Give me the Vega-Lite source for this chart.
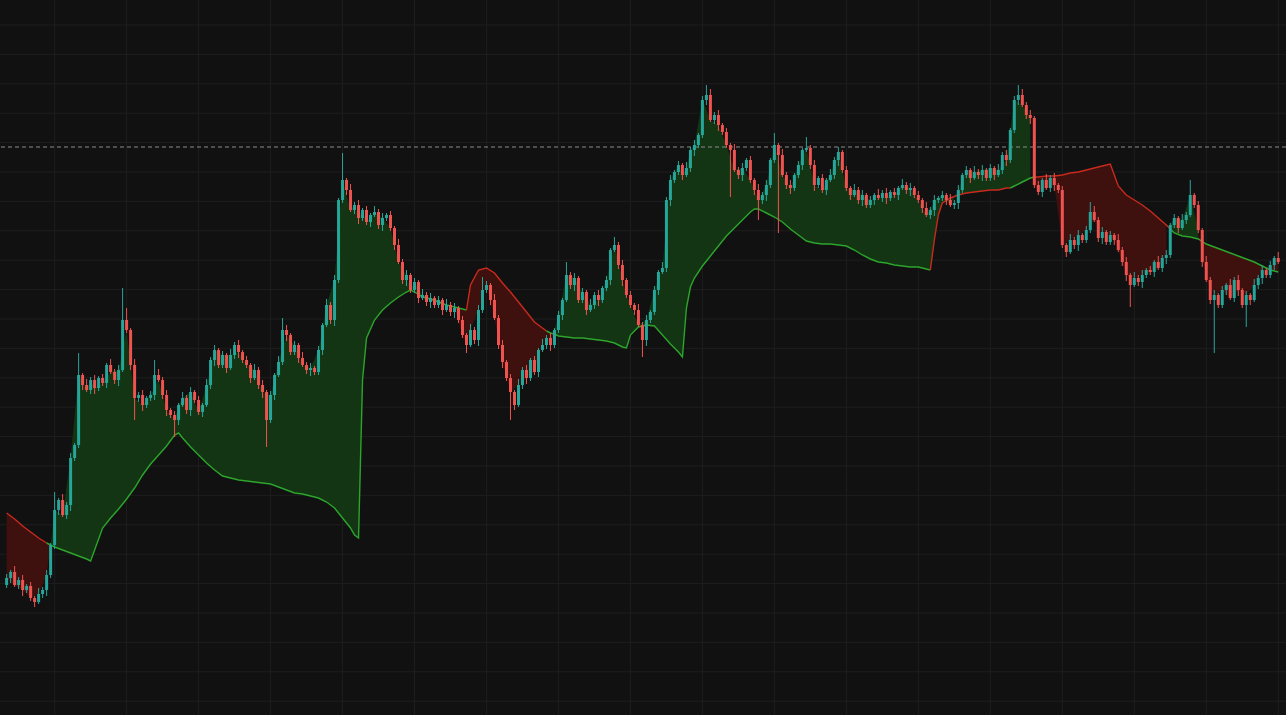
{
"$schema":"https://vega.github.io/schema/vega-lite/v6.json",
"width":1286,"height":715,"padding":0,"autosize":{"type":"none"},
"background":"#111111",
"config":{"view":{"stroke":null}},
"datasets":{
"gridx":[{"g":12},{"g":30},{"g":48},{"g":66},{"g":84},{"g":102},{"g":120},{"g":138},{"g":156},{"g":174},{"g":192},{"g":210},{"g":228},{"g":246},{"g":264},{"g":282},{"g":300},{"g":318}],
"gridy":[{"g":695},{"g":665.6},{"g":636.2},{"g":606.8},{"g":577.4},{"g":548},{"g":518.6},{"g":489.2},{"g":459.8},{"g":430.4},{"g":401},{"g":371.6},{"g":342.2},{"g":312.8},{"g":283.4},{"g":254},{"g":224.6},{"g":195.2},{"g":165.8},{"g":136.4},{"g":107},{"g":77.6},{"g":48.2},{"g":18.8}],
"candles":[
{"i":0,"o":135,"h":146,"l":132,"c":142},{"i":1,"o":142,"h":150,"l":137,"c":148},{"i":2,"o":148,"h":154,"l":133,"c":135},{"i":3,"o":135,"h":143,"l":131,"c":140},{"i":4,"o":140,"h":145,"l":124,"c":130},{"i":5,"o":130,"h":136,"l":127,"c":134},{"i":6,"o":134,"h":138,"l":119,"c":122},{"i":7,"o":122,"h":124,"l":113,"c":118},{"i":8,"o":118,"h":132,"l":116,"c":126},{"i":9,"o":126,"h":133,"l":122,"c":130},
{"i":10,"o":130,"h":150,"l":124,"c":145},{"i":11,"o":145,"h":177,"l":142,"c":175},{"i":12,"o":175,"h":228,"l":171,"c":210},{"i":13,"o":210,"h":222,"l":205,"c":220},{"i":14,"o":220,"h":226,"l":203,"c":205},{"i":15,"o":205,"h":218,"l":201,"c":215},{"i":16,"o":215,"h":267,"l":209,"c":262},{"i":17,"o":262,"h":277,"l":259,"c":275},{"i":18,"o":275,"h":367,"l":272,"c":345},{"i":19,"o":345,"h":347,"l":330,"c":335},
{"i":20,"o":335,"h":341,"l":328,"c":330},{"i":21,"o":330,"h":343,"l":326,"c":340},{"i":22,"o":340,"h":345,"l":326,"c":332},{"i":23,"o":332,"h":344,"l":329,"c":342},{"i":24,"o":342,"h":346,"l":334,"c":337},{"i":25,"o":337,"h":357,"l":332,"c":355},{"i":26,"o":355,"h":361,"l":346,"c":348},{"i":27,"o":348,"h":351,"l":336,"c":340},{"i":28,"o":340,"h":355,"l":334,"c":350},{"i":29,"o":350,"h":432,"l":348,"c":400},
{"i":30,"o":400,"h":412,"l":387,"c":390},{"i":31,"o":390,"h":392,"l":350,"c":355},{"i":32,"o":355,"h":361,"l":300,"c":322},{"i":33,"o":322,"h":328,"l":318,"c":325},{"i":34,"o":325,"h":330,"l":309,"c":315},{"i":35,"o":315,"h":324,"l":312,"c":322},{"i":36,"o":322,"h":329,"l":319,"c":325},{"i":37,"o":325,"h":360,"l":320,"c":345},{"i":38,"o":345,"h":351,"l":338,"c":340},{"i":39,"o":340,"h":343,"l":321,"c":325},
{"i":40,"o":325,"h":330,"l":304,"c":310},{"i":41,"o":310,"h":312,"l":302,"c":305},{"i":42,"o":305,"h":309,"l":283,"c":300},{"i":43,"o":300,"h":317,"l":295,"c":315},{"i":44,"o":315,"h":328,"l":313,"c":322},{"i":45,"o":322,"h":325,"l":306,"c":310},{"i":46,"o":310,"h":333,"l":304,"c":328},{"i":47,"o":328,"h":330,"l":317,"c":320},{"i":48,"o":320,"h":324,"l":305,"c":308},{"i":49,"o":308,"h":317,"l":303,"c":315},
{"i":50,"o":315,"h":341,"l":313,"c":335},{"i":51,"o":335,"h":363,"l":331,"c":360},{"i":52,"o":360,"h":375,"l":354,"c":370},{"i":53,"o":370,"h":372,"l":352,"c":355},{"i":54,"o":355,"h":369,"l":352,"c":365},{"i":55,"o":365,"h":367,"l":347,"c":352},{"i":56,"o":352,"h":371,"l":350,"c":365},{"i":57,"o":365,"h":378,"l":361,"c":375},{"i":58,"o":375,"h":380,"l":362,"c":368},{"i":59,"o":368,"h":370,"l":357,"c":360},
{"i":60,"o":360,"h":364,"l":352,"c":355},{"i":61,"o":355,"h":357,"l":337,"c":342},{"i":62,"o":342,"h":356,"l":340,"c":350},{"i":63,"o":350,"h":353,"l":331,"c":335},{"i":64,"o":335,"h":340,"l":322,"c":328},{"i":65,"o":328,"h":330,"l":273,"c":300},{"i":66,"o":300,"h":329,"l":297,"c":325},{"i":67,"o":325,"h":347,"l":320,"c":345},{"i":68,"o":345,"h":364,"l":343,"c":358},{"i":69,"o":358,"h":402,"l":355,"c":390},
{"i":70,"o":390,"h":395,"l":379,"c":385},{"i":71,"o":385,"h":387,"l":365,"c":368},{"i":72,"o":368,"h":379,"l":365,"c":375},{"i":73,"o":375,"h":377,"l":357,"c":362},{"i":74,"o":362,"h":368,"l":353,"c":355},{"i":75,"o":355,"h":358,"l":346,"c":350},{"i":76,"o":350,"h":357,"l":344,"c":352},{"i":77,"o":352,"h":354,"l":345,"c":348},{"i":78,"o":348,"h":374,"l":345,"c":370},{"i":79,"o":370,"h":397,"l":365,"c":395},
{"i":80,"o":395,"h":421,"l":393,"c":415},{"i":81,"o":415,"h":418,"l":396,"c":400},{"i":82,"o":400,"h":445,"l":394,"c":440},{"i":83,"o":440,"h":522,"l":437,"c":520},{"i":84,"o":520,"h":567,"l":517,"c":540},{"i":85,"o":540,"h":542,"l":525,"c":530},{"i":86,"o":530,"h":536,"l":508,"c":510},{"i":87,"o":510,"h":518,"l":506,"c":515},{"i":88,"o":515,"h":520,"l":496,"c":502},{"i":89,"o":502,"h":512,"l":499,"c":510},
{"i":90,"o":510,"h":514,"l":495,"c":498},{"i":91,"o":498,"h":507,"l":493,"c":505},{"i":92,"o":505,"h":514,"l":503,"c":508},{"i":93,"o":508,"h":511,"l":491,"c":495},{"i":94,"o":495,"h":507,"l":489,"c":502},{"i":95,"o":502,"h":507,"l":499,"c":505},{"i":96,"o":505,"h":509,"l":489,"c":492},{"i":97,"o":492,"h":494,"l":470,"c":475},{"i":98,"o":475,"h":481,"l":456,"c":458},{"i":99,"o":458,"h":461,"l":436,"c":440},
{"i":100,"o":440,"h":450,"l":434,"c":445},{"i":101,"o":445,"h":447,"l":427,"c":430},{"i":102,"o":430,"h":442,"l":427,"c":438},{"i":103,"o":438,"h":440,"l":417,"c":422},{"i":104,"o":422,"h":431,"l":420,"c":425},{"i":105,"o":425,"h":428,"l":414,"c":418},{"i":106,"o":418,"h":427,"l":412,"c":422},{"i":107,"o":422,"h":424,"l":412,"c":415},{"i":108,"o":415,"h":424,"l":412,"c":420},{"i":109,"o":420,"h":422,"l":405,"c":410},
{"i":110,"o":410,"h":421,"l":408,"c":415},{"i":111,"o":415,"h":418,"l":404,"c":408},{"i":112,"o":408,"h":417,"l":402,"c":412},{"i":113,"o":412,"h":414,"l":397,"c":400},{"i":114,"o":400,"h":404,"l":382,"c":385},{"i":115,"o":385,"h":387,"l":367,"c":375},{"i":116,"o":375,"h":396,"l":373,"c":390},{"i":117,"o":390,"h":393,"l":376,"c":380},{"i":118,"o":380,"h":415,"l":374,"c":410},{"i":119,"o":410,"h":443,"l":407,"c":430},
{"i":120,"o":430,"h":439,"l":427,"c":435},{"i":121,"o":435,"h":437,"l":415,"c":420},{"i":122,"o":420,"h":426,"l":400,"c":402},{"i":123,"o":402,"h":405,"l":371,"c":375},{"i":124,"o":375,"h":380,"l":352,"c":358},{"i":125,"o":358,"h":360,"l":339,"c":342},{"i":126,"o":342,"h":346,"l":300,"c":328},{"i":127,"o":328,"h":330,"l":310,"c":315},{"i":128,"o":315,"h":341,"l":313,"c":335},{"i":129,"o":335,"h":353,"l":331,"c":350},
{"i":130,"o":350,"h":355,"l":336,"c":342},{"i":131,"o":342,"h":362,"l":339,"c":360},{"i":132,"o":360,"h":364,"l":345,"c":348},{"i":133,"o":348,"h":372,"l":343,"c":370},{"i":134,"o":370,"h":381,"l":368,"c":375},{"i":135,"o":375,"h":385,"l":371,"c":382},{"i":136,"o":382,"h":387,"l":369,"c":375},{"i":137,"o":375,"h":392,"l":372,"c":390},{"i":138,"o":390,"h":409,"l":387,"c":405},{"i":139,"o":405,"h":422,"l":400,"c":420},
{"i":140,"o":420,"h":458,"l":418,"c":445},{"i":141,"o":445,"h":448,"l":431,"c":435},{"i":142,"o":435,"h":447,"l":429,"c":442},{"i":143,"o":442,"h":444,"l":417,"c":420},{"i":144,"o":420,"h":432,"l":417,"c":428},{"i":145,"o":428,"h":430,"l":405,"c":410},{"i":146,"o":410,"h":421,"l":408,"c":415},{"i":147,"o":415,"h":428,"l":411,"c":425},{"i":148,"o":425,"h":430,"l":414,"c":420},{"i":149,"o":420,"h":434,"l":417,"c":432},
{"i":150,"o":432,"h":444,"l":429,"c":440},{"i":151,"o":440,"h":472,"l":435,"c":470},{"i":152,"o":470,"h":483,"l":468,"c":475},{"i":153,"o":475,"h":478,"l":451,"c":455},{"i":154,"o":455,"h":460,"l":434,"c":440},{"i":155,"o":440,"h":442,"l":422,"c":425},{"i":156,"o":425,"h":429,"l":412,"c":415},{"i":157,"o":415,"h":417,"l":405,"c":410},{"i":158,"o":410,"h":416,"l":393,"c":395},{"i":159,"o":395,"h":398,"l":363,"c":380},
{"i":160,"o":380,"h":405,"l":374,"c":400},{"i":161,"o":400,"h":410,"l":397,"c":408},{"i":162,"o":408,"h":434,"l":405,"c":430},{"i":163,"o":430,"h":450,"l":425,"c":448},{"i":164,"o":448,"h":458,"l":446,"c":452},{"i":165,"o":452,"h":523,"l":448,"c":520},{"i":166,"o":520,"h":545,"l":514,"c":540},{"i":167,"o":540,"h":550,"l":537,"c":548},{"i":168,"o":548,"h":559,"l":545,"c":555},{"i":169,"o":555,"h":557,"l":540,"c":545},
{"i":170,"o":545,"h":558,"l":543,"c":552},{"i":171,"o":552,"h":573,"l":548,"c":570},{"i":172,"o":570,"h":580,"l":564,"c":575},{"i":173,"o":575,"h":587,"l":572,"c":585},{"i":174,"o":585,"h":624,"l":582,"c":620},{"i":175,"o":620,"h":635,"l":615,"c":625},{"i":176,"o":625,"h":631,"l":598,"c":600},{"i":177,"o":600,"h":608,"l":596,"c":605},{"i":178,"o":605,"h":610,"l":589,"c":595},{"i":179,"o":595,"h":597,"l":585,"c":588},
{"i":180,"o":588,"h":592,"l":572,"c":575},{"i":181,"o":575,"h":577,"l":523,"c":570},{"i":182,"o":570,"h":576,"l":548,"c":550},{"i":183,"o":550,"h":553,"l":541,"c":545},{"i":184,"o":545,"h":557,"l":539,"c":552},{"i":185,"o":552,"h":562,"l":549,"c":560},{"i":186,"o":560,"h":564,"l":537,"c":540},{"i":187,"o":540,"h":542,"l":525,"c":530},{"i":188,"o":530,"h":536,"l":500,"c":520},{"i":189,"o":520,"h":528,"l":516,"c":525},
{"i":190,"o":525,"h":540,"l":519,"c":535},{"i":191,"o":535,"h":562,"l":532,"c":560},{"i":192,"o":560,"h":587,"l":557,"c":575},{"i":193,"o":575,"h":577,"l":487,"c":565},{"i":194,"o":565,"h":571,"l":543,"c":545},{"i":195,"o":545,"h":548,"l":531,"c":535},{"i":196,"o":535,"h":540,"l":526,"c":532},{"i":197,"o":532,"h":547,"l":529,"c":545},{"i":198,"o":545,"h":559,"l":542,"c":555},{"i":199,"o":555,"h":572,"l":550,"c":570},
{"i":200,"o":570,"h":583,"l":568,"c":572},{"i":201,"o":572,"h":575,"l":551,"c":555},{"i":202,"o":555,"h":560,"l":529,"c":535},{"i":203,"o":535,"h":544,"l":532,"c":542},{"i":204,"o":542,"h":546,"l":527,"c":530},{"i":205,"o":530,"h":542,"l":525,"c":540},{"i":206,"o":540,"h":551,"l":538,"c":545},{"i":207,"o":545,"h":563,"l":541,"c":560},{"i":208,"o":560,"h":573,"l":554,"c":568},{"i":209,"o":568,"h":570,"l":547,"c":550},
{"i":210,"o":550,"h":554,"l":529,"c":532},{"i":211,"o":532,"h":534,"l":520,"c":525},{"i":212,"o":525,"h":536,"l":523,"c":530},{"i":213,"o":530,"h":533,"l":516,"c":520},{"i":214,"o":520,"h":530,"l":514,"c":525},{"i":215,"o":525,"h":527,"l":512,"c":515},{"i":216,"o":515,"h":524,"l":512,"c":520},{"i":217,"o":520,"h":527,"l":515,"c":525},{"i":218,"o":525,"h":531,"l":520,"c":522},{"i":219,"o":522,"h":530,"l":518,"c":527},
{"i":220,"o":527,"h":532,"l":516,"c":522},{"i":221,"o":522,"h":530,"l":519,"c":528},{"i":222,"o":528,"h":532,"l":522,"c":525},{"i":223,"o":525,"h":534,"l":520,"c":532},{"i":224,"o":532,"h":541,"l":530,"c":535},{"i":225,"o":535,"h":538,"l":526,"c":530},{"i":226,"o":530,"h":537,"l":524,"c":532},{"i":227,"o":532,"h":534,"l":522,"c":525},{"i":228,"o":525,"h":529,"l":517,"c":520},{"i":229,"o":520,"h":522,"l":507,"c":512},
{"i":230,"o":512,"h":518,"l":503,"c":505},{"i":231,"o":505,"h":513,"l":501,"c":510},{"i":232,"o":510,"h":525,"l":504,"c":520},{"i":233,"o":520,"h":524,"l":517,"c":522},{"i":234,"o":522,"h":529,"l":519,"c":525},{"i":235,"o":525,"h":527,"l":515,"c":520},{"i":236,"o":520,"h":526,"l":513,"c":515},{"i":237,"o":515,"h":520,"l":511,"c":517},{"i":238,"o":517,"h":535,"l":511,"c":530},{"i":239,"o":530,"h":547,"l":527,"c":545},
{"i":240,"o":545,"h":554,"l":542,"c":550},{"i":241,"o":550,"h":552,"l":537,"c":542},{"i":242,"o":542,"h":554,"l":540,"c":548},{"i":243,"o":548,"h":551,"l":541,"c":545},{"i":244,"o":545,"h":555,"l":539,"c":550},{"i":245,"o":550,"h":552,"l":539,"c":542},{"i":246,"o":542,"h":556,"l":539,"c":552},{"i":247,"o":552,"h":554,"l":540,"c":545},{"i":248,"o":545,"h":556,"l":543,"c":550},{"i":249,"o":550,"h":568,"l":546,"c":565},
{"i":250,"o":565,"h":570,"l":554,"c":560},{"i":251,"o":560,"h":592,"l":557,"c":590},{"i":252,"o":590,"h":624,"l":587,"c":620},{"i":253,"o":620,"h":635,"l":615,"c":625},{"i":254,"o":625,"h":631,"l":613,"c":615},{"i":255,"o":615,"h":618,"l":601,"c":605},{"i":256,"o":605,"h":610,"l":596,"c":602},{"i":257,"o":602,"h":604,"l":532,"c":535},{"i":258,"o":535,"h":539,"l":525,"c":528},{"i":259,"o":528,"h":542,"l":523,"c":540},
{"i":260,"o":540,"h":546,"l":530,"c":532},{"i":261,"o":532,"h":545,"l":528,"c":542},{"i":262,"o":542,"h":547,"l":529,"c":535},{"i":263,"o":535,"h":537,"l":527,"c":530},{"i":264,"o":530,"h":534,"l":472,"c":475},{"i":265,"o":475,"h":477,"l":463,"c":468},{"i":266,"o":468,"h":486,"l":466,"c":480},{"i":267,"o":480,"h":483,"l":471,"c":475},{"i":268,"o":475,"h":490,"l":469,"c":485},{"i":269,"o":485,"h":487,"l":477,"c":480},
{"i":270,"o":480,"h":494,"l":477,"c":490},{"i":271,"o":490,"h":518,"l":487,"c":508},{"i":272,"o":508,"h":514,"l":498,"c":500},{"i":273,"o":500,"h":503,"l":478,"c":482},{"i":274,"o":482,"h":493,"l":476,"c":488},{"i":275,"o":488,"h":490,"l":475,"c":478},{"i":276,"o":478,"h":489,"l":475,"c":485},{"i":277,"o":485,"h":487,"l":475,"c":480},{"i":278,"o":480,"h":486,"l":468,"c":470},{"i":279,"o":470,"h":473,"l":454,"c":458},
{"i":280,"o":458,"h":463,"l":439,"c":445},{"i":281,"o":445,"h":447,"l":413,"c":435},{"i":282,"o":435,"h":448,"l":433,"c":442},{"i":283,"o":442,"h":445,"l":434,"c":438},{"i":284,"o":438,"h":450,"l":432,"c":445},{"i":285,"o":445,"h":452,"l":442,"c":450},{"i":286,"o":450,"h":454,"l":445,"c":448},{"i":287,"o":448,"h":460,"l":443,"c":458},{"i":288,"o":458,"h":464,"l":450,"c":452},{"i":289,"o":452,"h":465,"l":448,"c":462},
{"i":290,"o":462,"h":470,"l":456,"c":465},{"i":291,"o":465,"h":497,"l":462,"c":495},{"i":292,"o":495,"h":506,"l":492,"c":502},{"i":293,"o":502,"h":504,"l":487,"c":492},{"i":294,"o":492,"h":506,"l":490,"c":500},{"i":295,"o":500,"h":508,"l":496,"c":505},{"i":296,"o":505,"h":540,"l":503,"c":525},{"i":297,"o":525,"h":527,"l":512,"c":515},{"i":298,"o":515,"h":519,"l":487,"c":490},{"i":299,"o":490,"h":492,"l":453,"c":458},
{"i":300,"o":458,"h":464,"l":438,"c":440},{"i":301,"o":440,"h":443,"l":416,"c":420},{"i":302,"o":420,"h":430,"l":367,"c":425},{"i":303,"o":425,"h":427,"l":412,"c":415},{"i":304,"o":415,"h":434,"l":412,"c":430},{"i":305,"o":430,"h":437,"l":425,"c":435},{"i":306,"o":435,"h":441,"l":420,"c":422},{"i":307,"o":422,"h":443,"l":418,"c":440},{"i":308,"o":440,"h":445,"l":424,"c":430},{"i":309,"o":430,"h":432,"l":412,"c":415},
{"i":310,"o":415,"h":429,"l":393,"c":425},{"i":311,"o":425,"h":427,"l":415,"c":420},{"i":312,"o":420,"h":441,"l":418,"c":435},{"i":313,"o":435,"h":445,"l":431,"c":442},{"i":314,"o":442,"h":455,"l":436,"c":450},{"i":315,"o":450,"h":452,"l":442,"c":445},{"i":316,"o":445,"h":459,"l":442,"c":455},{"i":317,"o":455,"h":464,"l":450,"c":462},{"i":318,"o":462,"h":468,"l":456,"c":458}
],
"band":[
{"i":0,"s":207,"lt":"dn","lg":1,"ft":"dn","fg":1},{"i":2,"s":201,"lt":"dn","lg":1,"ft":"dn","fg":1},{"i":4,"s":194,"lt":"dn","lg":1,"ft":"dn","fg":1},{"i":6,"s":188,"lt":"dn","lg":1,"ft":"dn","fg":1},{"i":8,"s":182,"lt":"dn","lg":1,"ft":"dn","fg":1},{"i":10,"s":177,"lt":"dn","lg":1,"ft":"dn","fg":1},
{"i":10,"s":177,"lt":"up","lg":2,"ft":"dn","fg":1},{"i":11,"s":175,"lt":"up","lg":2,"ft":"dn","fg":1},{"i":11,"s":175,"lt":"up","lg":2,"ft":"up","fg":2},
{"i":12,"s":173,"lt":"up","lg":2,"ft":"up","fg":2},{"i":14,"s":170,"lt":"up","lg":2,"ft":"up","fg":2},{"i":16,"s":167,"lt":"up","lg":2,"ft":"up","fg":2},{"i":18,"s":164,"lt":"up","lg":2,"ft":"up","fg":2},{"i":20,"s":161,"lt":"up","lg":2,"ft":"up","fg":2},{"i":21,"s":159,"lt":"up","lg":2,"ft":"up","fg":2},{"i":22,"s":170,"lt":"up","lg":2,"ft":"up","fg":2},{"i":24,"s":192,"lt":"up","lg":2,"ft":"up","fg":2},{"i":26,"s":202,"lt":"up","lg":2,"ft":"up","fg":2},{"i":28,"s":211,"lt":"up","lg":2,"ft":"up","fg":2},
{"i":30,"s":221,"lt":"up","lg":2,"ft":"up","fg":2},{"i":32,"s":232,"lt":"up","lg":2,"ft":"up","fg":2},{"i":34,"s":245,"lt":"up","lg":2,"ft":"up","fg":2},{"i":36,"s":256,"lt":"up","lg":2,"ft":"up","fg":2},{"i":38,"s":265,"lt":"up","lg":2,"ft":"up","fg":2},{"i":40,"s":274,"lt":"up","lg":2,"ft":"up","fg":2},{"i":42,"s":285,"lt":"up","lg":2,"ft":"up","fg":2},{"i":43,"s":287,"lt":"up","lg":2,"ft":"up","fg":2},{"i":44,"s":282,"lt":"up","lg":2,"ft":"up","fg":2},{"i":46,"s":273,"lt":"up","lg":2,"ft":"up","fg":2},
{"i":48,"s":265,"lt":"up","lg":2,"ft":"up","fg":2},{"i":50,"s":257,"lt":"up","lg":2,"ft":"up","fg":2},{"i":52,"s":250,"lt":"up","lg":2,"ft":"up","fg":2},{"i":54,"s":244,"lt":"up","lg":2,"ft":"up","fg":2},{"i":56,"s":242,"lt":"up","lg":2,"ft":"up","fg":2},{"i":58,"s":240,"lt":"up","lg":2,"ft":"up","fg":2},{"i":60,"s":239,"lt":"up","lg":2,"ft":"up","fg":2},{"i":62,"s":238,"lt":"up","lg":2,"ft":"up","fg":2},{"i":64,"s":237,"lt":"up","lg":2,"ft":"up","fg":2},{"i":66,"s":236,"lt":"up","lg":2,"ft":"up","fg":2},
{"i":68,"s":233,"lt":"up","lg":2,"ft":"up","fg":2},{"i":70,"s":230,"lt":"up","lg":2,"ft":"up","fg":2},{"i":72,"s":227,"lt":"up","lg":2,"ft":"up","fg":2},{"i":74,"s":226,"lt":"up","lg":2,"ft":"up","fg":2},{"i":76,"s":224,"lt":"up","lg":2,"ft":"up","fg":2},{"i":78,"s":222,"lt":"up","lg":2,"ft":"up","fg":2},{"i":80,"s":218,"lt":"up","lg":2,"ft":"up","fg":2},{"i":82,"s":212,"lt":"up","lg":2,"ft":"up","fg":2},{"i":84,"s":202,"lt":"up","lg":2,"ft":"up","fg":2},{"i":86,"s":192,"lt":"up","lg":2,"ft":"up","fg":2},
{"i":87,"s":185,"lt":"up","lg":2,"ft":"up","fg":2},{"i":88,"s":182,"lt":"up","lg":2,"ft":"up","fg":2},{"i":89,"s":340,"lt":"up","lg":2,"ft":"up","fg":2},{"i":90,"s":382,"lt":"up","lg":2,"ft":"up","fg":2},{"i":92,"s":400,"lt":"up","lg":2,"ft":"up","fg":2},{"i":94,"s":410,"lt":"up","lg":2,"ft":"up","fg":2},{"i":96,"s":417,"lt":"up","lg":2,"ft":"up","fg":2},{"i":98,"s":423,"lt":"up","lg":2,"ft":"up","fg":2},{"i":100,"s":428,"lt":"up","lg":2,"ft":"up","fg":2},{"i":101,"s":430,"lt":"up","lg":2,"ft":"up","fg":2},
{"i":102,"s":428,"lt":"up","lg":2,"ft":"up","fg":2},{"i":104,"s":423,"lt":"up","lg":2,"ft":"up","fg":2},{"i":106,"s":421,"lt":"up","lg":2,"ft":"up","fg":2},{"i":108,"s":418,"lt":"up","lg":2,"ft":"up","fg":2},{"i":110,"s":415,"lt":"up","lg":2,"ft":"up","fg":2},
{"i":110,"s":415,"lt":"up","lg":2,"ft":"dn","fg":3},{"i":112,"s":413,"lt":"up","lg":2,"ft":"dn","fg":3},{"i":114,"s":411,"lt":"up","lg":2,"ft":"dn","fg":3},{"i":115,"s":410,"lt":"up","lg":2,"ft":"dn","fg":3},
{"i":115,"s":410,"lt":"dn","lg":3,"ft":"dn","fg":3},{"i":116,"s":435,"lt":"dn","lg":3,"ft":"dn","fg":3},{"i":118,"s":450,"lt":"dn","lg":3,"ft":"dn","fg":3},{"i":120,"s":452,"lt":"dn","lg":3,"ft":"dn","fg":3},{"i":122,"s":447,"lt":"dn","lg":3,"ft":"dn","fg":3},{"i":124,"s":437,"lt":"dn","lg":3,"ft":"dn","fg":3},{"i":126,"s":428,"lt":"dn","lg":3,"ft":"dn","fg":3},{"i":128,"s":418,"lt":"dn","lg":3,"ft":"dn","fg":3},{"i":130,"s":408,"lt":"dn","lg":3,"ft":"dn","fg":3},{"i":132,"s":398,"lt":"dn","lg":3,"ft":"dn","fg":3},{"i":134,"s":392,"lt":"dn","lg":3,"ft":"dn","fg":3},{"i":135,"s":389,"lt":"dn","lg":3,"ft":"dn","fg":3},
{"i":135,"s":389,"lt":"up","lg":4,"ft":"dn","fg":3},{"i":136,"s":387,"lt":"up","lg":4,"ft":"dn","fg":3},{"i":137,"s":386,"lt":"up","lg":4,"ft":"dn","fg":3},
{"i":137,"s":386,"lt":"up","lg":4,"ft":"up","fg":4},{"i":138,"s":384,"lt":"up","lg":4,"ft":"up","fg":4},{"i":140,"s":383,"lt":"up","lg":4,"ft":"up","fg":4},{"i":142,"s":382,"lt":"up","lg":4,"ft":"up","fg":4},{"i":144,"s":382,"lt":"up","lg":4,"ft":"up","fg":4},{"i":146,"s":381,"lt":"up","lg":4,"ft":"up","fg":4},{"i":148,"s":380,"lt":"up","lg":4,"ft":"up","fg":4},{"i":150,"s":379,"lt":"up","lg":4,"ft":"up","fg":4},{"i":152,"s":377,"lt":"up","lg":4,"ft":"up","fg":4},{"i":154,"s":373,"lt":"up","lg":4,"ft":"up","fg":4},
{"i":155,"s":372,"lt":"up","lg":4,"ft":"up","fg":4},{"i":156,"s":385,"lt":"up","lg":4,"ft":"up","fg":4},{"i":158,"s":393,"lt":"up","lg":4,"ft":"up","fg":4},{"i":160,"s":395,"lt":"up","lg":4,"ft":"up","fg":4},{"i":162,"s":394,"lt":"up","lg":4,"ft":"up","fg":4},{"i":164,"s":385,"lt":"up","lg":4,"ft":"up","fg":4},{"i":166,"s":376,"lt":"up","lg":4,"ft":"up","fg":4},{"i":168,"s":368,"lt":"up","lg":4,"ft":"up","fg":4},{"i":169,"s":363,"lt":"up","lg":4,"ft":"up","fg":4},{"i":170,"s":412,"lt":"up","lg":4,"ft":"up","fg":4},
{"i":171,"s":433,"lt":"up","lg":4,"ft":"up","fg":4},{"i":172,"s":442,"lt":"up","lg":4,"ft":"up","fg":4},{"i":174,"s":454,"lt":"up","lg":4,"ft":"up","fg":4},{"i":176,"s":464,"lt":"up","lg":4,"ft":"up","fg":4},{"i":178,"s":474,"lt":"up","lg":4,"ft":"up","fg":4},{"i":180,"s":484,"lt":"up","lg":4,"ft":"up","fg":4},{"i":182,"s":492,"lt":"up","lg":4,"ft":"up","fg":4},{"i":184,"s":500,"lt":"up","lg":4,"ft":"up","fg":4},{"i":186,"s":508,"lt":"up","lg":4,"ft":"up","fg":4},{"i":187,"s":511,"lt":"up","lg":4,"ft":"up","fg":4},
{"i":188,"s":511,"lt":"up","lg":4,"ft":"up","fg":4},{"i":190,"s":507,"lt":"up","lg":4,"ft":"up","fg":4},{"i":192,"s":503,"lt":"up","lg":4,"ft":"up","fg":4},{"i":194,"s":498,"lt":"up","lg":4,"ft":"up","fg":4},{"i":196,"s":491,"lt":"up","lg":4,"ft":"up","fg":4},{"i":198,"s":485,"lt":"up","lg":4,"ft":"up","fg":4},{"i":200,"s":479,"lt":"up","lg":4,"ft":"up","fg":4},{"i":202,"s":477,"lt":"up","lg":4,"ft":"up","fg":4},{"i":204,"s":476,"lt":"up","lg":4,"ft":"up","fg":4},{"i":206,"s":476,"lt":"up","lg":4,"ft":"up","fg":4},
{"i":208,"s":475,"lt":"up","lg":4,"ft":"up","fg":4},{"i":210,"s":474,"lt":"up","lg":4,"ft":"up","fg":4},{"i":212,"s":470,"lt":"up","lg":4,"ft":"up","fg":4},{"i":214,"s":465,"lt":"up","lg":4,"ft":"up","fg":4},{"i":216,"s":461,"lt":"up","lg":4,"ft":"up","fg":4},{"i":218,"s":458,"lt":"up","lg":4,"ft":"up","fg":4},{"i":220,"s":457,"lt":"up","lg":4,"ft":"up","fg":4},{"i":222,"s":455,"lt":"up","lg":4,"ft":"up","fg":4},{"i":224,"s":454,"lt":"up","lg":4,"ft":"up","fg":4},{"i":226,"s":453,"lt":"up","lg":4,"ft":"up","fg":4},
{"i":228,"s":453,"lt":"up","lg":4,"ft":"up","fg":4},{"i":230,"s":451,"lt":"up","lg":4,"ft":"up","fg":4},{"i":231,"s":450,"lt":"up","lg":4,"ft":"up","fg":4},
{"i":231,"s":450,"lt":"dn","lg":5,"ft":"up","fg":4},{"i":232,"s":480,"lt":"dn","lg":5,"ft":"up","fg":4},{"i":233,"s":505,"lt":"dn","lg":5,"ft":"up","fg":4},{"i":234,"s":517,"lt":"dn","lg":5,"ft":"up","fg":4},{"i":236,"s":522,"lt":"dn","lg":5,"ft":"up","fg":4},{"i":238,"s":525,"lt":"dn","lg":5,"ft":"up","fg":4},{"i":240,"s":527,"lt":"dn","lg":5,"ft":"up","fg":4},{"i":242,"s":528,"lt":"dn","lg":5,"ft":"up","fg":4},{"i":244,"s":529,"lt":"dn","lg":5,"ft":"up","fg":4},{"i":246,"s":530,"lt":"dn","lg":5,"ft":"up","fg":4},{"i":248,"s":530,"lt":"dn","lg":5,"ft":"up","fg":4},{"i":250,"s":532,"lt":"dn","lg":5,"ft":"up","fg":4},{"i":251,"s":532,"lt":"dn","lg":5,"ft":"up","fg":4},
{"i":251,"s":532,"lt":"up","lg":6,"ft":"up","fg":4},{"i":252,"s":534,"lt":"up","lg":6,"ft":"up","fg":4},{"i":254,"s":538,"lt":"up","lg":6,"ft":"up","fg":4},{"i":256,"s":542,"lt":"up","lg":6,"ft":"up","fg":4},
{"i":257,"s":543,"lt":"up","lg":6,"ft":"dn","fg":5},{"i":257,"s":543,"lt":"dn","lg":7,"ft":"dn","fg":5},
{"i":258,"s":543,"lt":"dn","lg":7,"ft":"dn","fg":5},{"i":260,"s":544,"lt":"dn","lg":7,"ft":"dn","fg":5},{"i":262,"s":544,"lt":"dn","lg":7,"ft":"dn","fg":5},{"i":264,"s":545,"lt":"dn","lg":7,"ft":"dn","fg":5},{"i":266,"s":547,"lt":"dn","lg":7,"ft":"dn","fg":5},{"i":268,"s":548,"lt":"dn","lg":7,"ft":"dn","fg":5},{"i":270,"s":550,"lt":"dn","lg":7,"ft":"dn","fg":5},{"i":272,"s":552,"lt":"dn","lg":7,"ft":"dn","fg":5},{"i":274,"s":554,"lt":"dn","lg":7,"ft":"dn","fg":5},{"i":276,"s":556,"lt":"dn","lg":7,"ft":"dn","fg":5},
{"i":277,"s":545,"lt":"dn","lg":7,"ft":"dn","fg":5},{"i":278,"s":534,"lt":"dn","lg":7,"ft":"dn","fg":5},{"i":280,"s":525,"lt":"dn","lg":7,"ft":"dn","fg":5},{"i":282,"s":520,"lt":"dn","lg":7,"ft":"dn","fg":5},{"i":284,"s":515,"lt":"dn","lg":7,"ft":"dn","fg":5},{"i":286,"s":509,"lt":"dn","lg":7,"ft":"dn","fg":5},{"i":288,"s":502,"lt":"dn","lg":7,"ft":"dn","fg":5},{"i":290,"s":495,"lt":"dn","lg":7,"ft":"dn","fg":5},
{"i":291,"s":491,"lt":"dn","lg":7,"ft":"up","fg":6},{"i":291,"s":491,"lt":"up","lg":8,"ft":"up","fg":6},{"i":292,"s":487,"lt":"up","lg":8,"ft":"up","fg":6},{"i":294,"s":484,"lt":"up","lg":8,"ft":"up","fg":6},{"i":296,"s":483,"lt":"up","lg":8,"ft":"up","fg":6},{"i":298,"s":481,"lt":"up","lg":8,"ft":"up","fg":6},
{"i":298,"s":481,"lt":"up","lg":8,"ft":"dn","fg":7},{"i":300,"s":476,"lt":"up","lg":8,"ft":"dn","fg":7},{"i":302,"s":473,"lt":"up","lg":8,"ft":"dn","fg":7},{"i":304,"s":470,"lt":"up","lg":8,"ft":"dn","fg":7},{"i":306,"s":467,"lt":"up","lg":8,"ft":"dn","fg":7},{"i":308,"s":464,"lt":"up","lg":8,"ft":"dn","fg":7},{"i":310,"s":461,"lt":"up","lg":8,"ft":"dn","fg":7},{"i":312,"s":458,"lt":"up","lg":8,"ft":"dn","fg":7},{"i":314,"s":454,"lt":"up","lg":8,"ft":"dn","fg":7},{"i":316,"s":450,"lt":"up","lg":8,"ft":"dn","fg":7},{"i":318,"s":448,"lt":"up","lg":8,"ft":"dn","fg":7}
]
},
"layer":[
{"data":{"name":"gridx"},
 "mark":{"type":"rule","stroke":"#1e1e1e","strokeWidth":1},
 "encoding":{"x":{"field":"g","type":"quantitative","scale":{"domain":[-0.41,318.69],"nice":false,"zero":false},"axis":null}}},
{"data":{"name":"gridy"},
 "mark":{"type":"rule","stroke":"#1e1e1e","strokeWidth":1},
 "encoding":{"y":{"field":"g","type":"quantitative","scale":{"domain":[5,720],"nice":false,"zero":false},"axis":null}}},
{"data":{"name":"band"},
 "transform":[{"lookup":"i","from":{"data":{"name":"candles"},"key":"i","fields":["c"]}}],
 "mark":{"type":"area","opacity":1},
 "encoding":{
  "x":{"field":"i","type":"quantitative","scale":{"domain":[-0.41,318.69],"nice":false,"zero":false},"axis":null},
  "y":{"field":"s","type":"quantitative","scale":{"domain":[5,720],"nice":false,"zero":false},"axis":null},
  "y2":{"field":"c"},
  "fill":{"field":"ft","type":"nominal","scale":{"domain":["up","dn"],"range":["#143514","#3e110e"]},"legend":null},
  "detail":{"field":"fg","type":"nominal"}
 }},
{"data":{"name":"band"},
 "mark":{"type":"line","strokeWidth":1.4},
 "encoding":{
  "x":{"field":"i","type":"quantitative","scale":{"domain":[-0.41,318.69],"nice":false,"zero":false},"axis":null},
  "y":{"field":"s","type":"quantitative","scale":{"domain":[5,720],"nice":false,"zero":false},"axis":null},
  "stroke":{"field":"lt","type":"nominal","scale":{"domain":["up","dn"],"range":["#2ca52c","#c82a1e"]},"legend":null},
  "detail":{"field":"lg","type":"nominal"}
 }},
{"data":{"values":[{"level":573}]},
 "mark":{"type":"rule","stroke":"#8c8c8c","strokeDash":[4,3],"strokeWidth":1},
 "encoding":{"y":{"field":"level","type":"quantitative","scale":{"domain":[5,720],"nice":false,"zero":false},"axis":null}}},
{"data":{"name":"candles"},
 "mark":{"type":"rule","strokeWidth":1},
 "encoding":{
  "x":{"field":"i","type":"quantitative","scale":{"domain":[-0.41,318.69],"nice":false,"zero":false},"axis":null},
  "y":{"field":"l","type":"quantitative","scale":{"domain":[5,720],"nice":false,"zero":false},"axis":null},
  "y2":{"field":"h"},
  "color":{"condition":{"test":"datum.c >= datum.o","value":"#26a69a"},"value":"#ef5350"}
 }},
{"data":{"name":"candles"},
 "mark":{"type":"bar","size":3},
 "encoding":{
  "x":{"field":"i","type":"quantitative","scale":{"domain":[-0.41,318.69],"nice":false,"zero":false},"axis":null},
  "y":{"field":"o","type":"quantitative","scale":{"domain":[5,720],"nice":false,"zero":false},"axis":null},
  "y2":{"field":"c"},
  "color":{"condition":{"test":"datum.c >= datum.o","value":"#26a69a"},"value":"#ef5350"}
 }}
]
}
